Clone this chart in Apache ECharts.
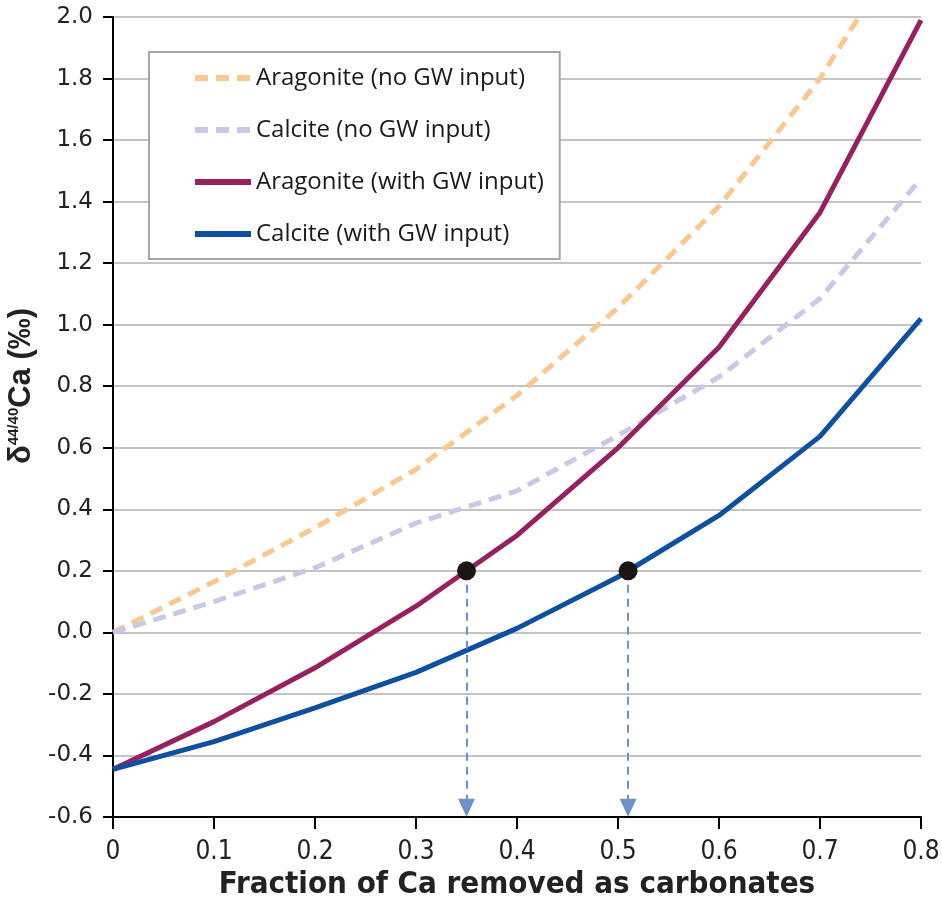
<!DOCTYPE html>
<html><head><meta charset="utf-8">
<script src="https://cdn.jsdelivr.net/npm/echarts@6/dist/echarts.min.js"></script>
<style>html,body{margin:0;padding:0;background:#fff}#c{width:942px;height:901px}</style>
</head><body><div id="c"></div>
<script>
const fractions = [0, 0.1, 0.2, 0.3, 0.4, 0.5, 0.6, 0.7, 0.8];
const aragoniteNoGW = [0, 0.165, 0.34, 0.53, 0.77, 1.055, 1.385, 1.80, 2.32];
const calciteNoGW = [0, 0.10, 0.21, 0.355, 0.46, 0.64, 0.83, 1.085, 1.475];
const aragoniteGW = [-0.445, -0.29, -0.115, 0.085, 0.315, 0.60, 0.927, 1.365, 1.99];
const calciteGW = [-0.445, -0.355, -0.245, -0.13, 0.013, 0.18, 0.38, 0.637, 1.02];
const markedX = [0.35, 0.51];
const markedY = [0.2, 0.2];
const arrowEndY = -0.57;
const yTicks = ['-0.6','-0.4','-0.2','0.0','0.2','0.4','0.6','0.8','1.0','1.2','1.4','1.6','1.8','2.0'];
const seriesNames = ['Aragonite (no GW input)', 'Calcite (no GW input)', 'Aragonite (with GW input)', 'Calcite (with GW input)'];

const narrow = '"DejaVu Sans Condensed", "Liberation Sans Narrow", "Liberation Sans", sans-serif';
const pair = (xs, ys) => xs.map((x, i) => [x, ys[i]]);
const chart = echarts.init(document.getElementById('c'));
const lineSeries = (name, data, color, dashed) => ({
  name, type: 'line', data: pair(fractions, data), symbol: 'none', smooth: false,
  clip: true,
  lineStyle: { color, width: 5, type: dashed ? [13, 8] : 'solid', cap: 'butt' },
  itemStyle: { color },
  z: dashed ? 2 : 3
});
chart.setOption({
  animation: false,
  grid: { left: 113, right: 21, top: 17, bottom: 84, containLabel: false, outerBoundsMode: 'none' },
  legend: {
    orient: 'vertical', left: 149, top: 52,
    data: seriesNames,
    backgroundColor: '#fff', borderColor: '#a6a6a6', borderWidth: 2,
    padding: [13, 16, 12, 43],
    itemWidth: 56, itemHeight: 6, itemGap: 26,
    itemStyle: { color: 'rgba(0,0,0,0)', opacity: 0, borderWidth: 0 },
    lineStyle: { width: 6 },
    textStyle: { fontFamily: 'Open Sans', fontSize: 24, color: '#1a1a1a', lineHeight: 26 }
  },
  xAxis: {
    type: 'value', min: 0, max: 0.8, interval: 0.1,
    name: 'Fraction of Ca removed as carbonates', nameLocation: 'middle', nameGap: 46,
    nameTextStyle: { fontFamily: narrow, fontWeight: 'bold', fontSize: 31, color: '#222' },
    axisLine: { onZero: false, lineStyle: { color: '#000', width: 2 } },
    axisTick: { show: true, length: 12, lineStyle: { color: '#000', width: 2 } },
    axisLabel: { fontFamily: narrow, fontSize: 26, color: '#222', margin: 22,
      formatter: v => (Math.round(v * 10) === 0 ? '0' : (Math.round(v * 10) / 10).toString()) },
    splitLine: { show: false }
  },
  yAxis: {
    type: 'value', min: -0.6, max: 2.0, interval: 0.2,
    name: '{d|δ}{s|44/40}{d|Ca (‰)}', nameLocation: 'middle', nameGap: 72, nameRotate: 90,
    nameTextStyle: { padding: [0, 0, 0, 62], rich: {
      d: { fontFamily: 'Liberation Sans', fontWeight: 'bold', fontSize: 31, color: '#222' },
      s: { fontFamily: 'Liberation Sans', fontWeight: 'bold', fontSize: 15, color: '#222', verticalAlign: 'top', padding: [0, 0, 16, 0] }
    } },
    axisLine: { show: true, lineStyle: { color: '#000', width: 2 } },
    axisTick: { show: true, length: 10, lineStyle: { color: '#000', width: 2 } },
    axisLabel: { fontFamily: 'DejaVu Sans', fontSize: 23, color: '#222', margin: 20,
      formatter: v => yTicks[Math.round((v + 0.6) / 0.2)] },
    splitLine: { show: true, lineStyle: { color: '#c4c4c4', width: 2 } }
  },
  series: [
    lineSeries(seriesNames[0], aragoniteNoGW, '#f9c78f', true),
    lineSeries(seriesNames[1], calciteNoGW, '#c9c9e6', true),
    lineSeries(seriesNames[2], aragoniteGW, '#98205f', false),
    lineSeries(seriesNames[3], calciteGW, '#0d4fa1', false),
    {
      name: 'marked', type: 'scatter', data: pair(markedX, markedY),
      symbol: 'circle', symbolSize: 19, itemStyle: { color: '#1b1515', opacity: 1 }, z: 5,
      markLine: {
        silent: true, symbol: ['none', 'triangle'], symbolSize: [17, 18],
        label: { show: false },
        lineStyle: { color: '#7090c8', width: 2, type: [8, 6] },
        data: markedX.map((x, i) => [{ coord: [x, markedY[i]] }, { coord: [x, arrowEndY] }])
      }
    }
  ]
});
</script></body></html>
